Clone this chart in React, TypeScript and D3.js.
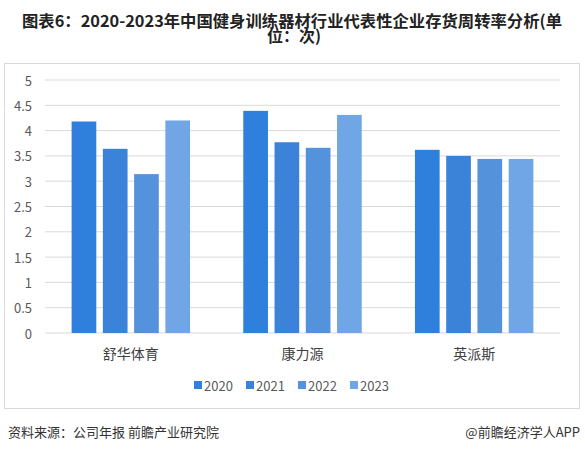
import * as d3 from 'd3';

const categories = ['舒华体育', '康力源', '英派斯'];
const years = ['2020', '2021', '2022', '2023'];
const values2020 = [4.18, 4.39, 3.62];
const values2021 = [3.64, 3.77, 3.5];
const values2022 = [3.14, 3.66, 3.44];
const values2023 = [4.2, 4.31, 3.44];
const yTicks = [0, 0.5, 1, 1.5, 2, 2.5, 3, 3.5, 4, 4.5, 5];
const colors = ['#2f7fdc', '#3b83d8', '#5592dc', '#70a6e6'];

const WIDTH = 585;
const HEIGHT = 450;
const PLOT = { left: 45, right: 560, top: 80, bottom: 333 };
const FONT = '"Noto Sans CJK SC", "Noto Sans", sans-serif';

const series = [values2020, values2021, values2022, values2023];

export default function App() {
  const x = d3
    .scaleBand()
    .domain(categories)
    .range([PLOT.left, PLOT.right])
    .paddingInner(0)
    .paddingOuter(0);

  const groupWidth = x.bandwidth() * 0.69;
  const xInner = d3
    .scaleBand()
    .domain(years)
    .range([0, groupWidth])
    .paddingInner(0.21);

  const y = d3.scaleLinear().domain([0, 5]).range([PLOT.bottom, PLOT.top]);

  // legend layout
  const legendX = d3.scaleBand().domain(years).range([194, 402]);

  return (
    <svg
      width={WIDTH}
      height={HEIGHT}
      style={{ position: 'absolute', left: 0, top: 0, background: '#fff' }}
      fontFamily={FONT}
    >
      <text
        x={292}
        y={27}
        fontSize={16}
        fontWeight="bold"
        fill="#222"
        textAnchor="middle"
        textLength={540}
        lengthAdjust="spacingAndGlyphs"
      >
        图表6：2020-2023年中国健身训练器材行业代表性企业存货周转率分析(单
      </text>
      <text x={294} y={42} fontSize={16} fontWeight="bold" fill="#222" textAnchor="middle">
        位：次)
      </text>

      <rect x={4.5} y={63.5} width={575} height={345} fill="#fff" stroke="#d9d9d9" />

      {yTicks.map((t) => (
        <g key={t}>
          <line x1={PLOT.left} x2={PLOT.right} y1={y(t)} y2={y(t)} stroke="#d9d9d9" />
          <text
            x={32}
            y={y(t)}
            textAnchor="end"
            dominantBaseline="central"
            fontSize={13}
            fill="#595959"
          >
            {t}
          </text>
        </g>
      ))}

      {categories.map((c, ci) => {
        const gx = (x(c) ?? 0) + (x.bandwidth() - groupWidth) / 2;
        return (
          <g key={c}>
            {series.map((s, si) => (
              <rect
                key={si}
                x={gx + (xInner(years[si]) ?? 0)}
                y={y(s[ci])}
                width={xInner.bandwidth()}
                height={y(0) - y(s[ci])}
                fill={colors[si]}
              />
            ))}
            <text
              x={(x(c) ?? 0) + x.bandwidth() / 2}
              y={353}
              textAnchor="middle"
              dominantBaseline="central"
              fontSize={14}
              fill="#404040"
            >
              {c}
            </text>
          </g>
        );
      })}

      {years.map((yr, i) => (
        <g key={yr} transform={`translate(${legendX(yr)},385)`}>
          <rect x={0} y={-4} width={8} height={8} fill={colors[i]} />
          <text x={10} y={0} dominantBaseline="central" fontSize={13} fill="#595959">
            {yr}
          </text>
        </g>
      ))}

      <text x={8} y={431} dominantBaseline="central" fontSize={13} fill="#333">
        资料来源：公司年报 前瞻产业研究院
      </text>
      <text x={580} y={431} dominantBaseline="central" textAnchor="end" fontSize={13} fill="#333">
        @前瞻经济学人APP
      </text>
    </svg>
  );
}
